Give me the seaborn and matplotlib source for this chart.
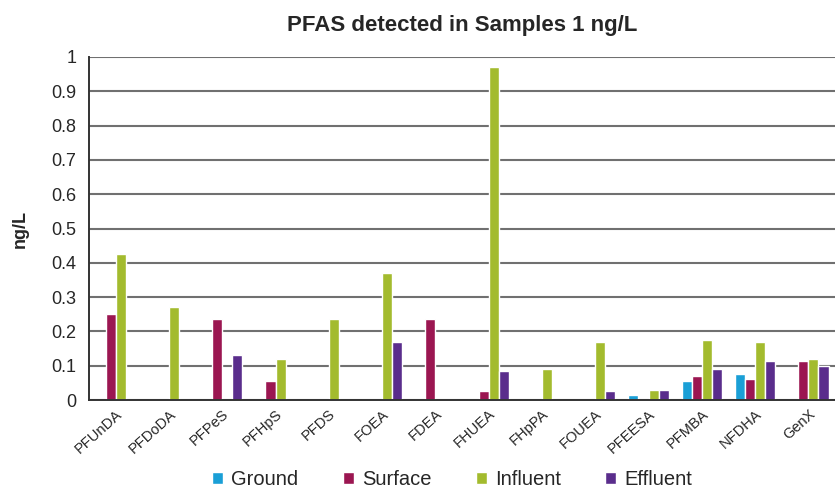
import numpy as np
import pandas as pd
import matplotlib.pyplot as plt
import seaborn as sns

# ── data ─────────────────────────────────────────────────────────────────────
compounds = ["PFUnDA", "PFDoDA", "PFPeS", "PFHpS", "PFDS", "FOEA", "FDEA",
             "FHUEA", "FHpPA", "FOUEA", "PFEESA", "PFMBA", "NFDHA", "GenX"]
ground   = [0, 0, 0, 0, 0, 0, 0, 0, 0, 0, 0.015, 0.055, 0.075, 0]
surface  = [0.25, 0, 0.235, 0.055, 0, 0, 0.235, 0.025, 0, 0, 0, 0.07, 0.06, 0.115]
influent = [0.425, 0.27, 0, 0.12, 0.235, 0.37, 0, 0.97, 0.09, 0.17, 0.03, 0.175, 0.17, 0.12]
effluent = [0, 0, 0.13, 0, 0, 0.17, 0, 0.085, 0, 0.025, 0.03, 0.09, 0.115, 0.10]

sample_types = ["Ground", "Surface", "Influent", "Effluent"]
palette = ["#1a9fd6", "#9b1651", "#a3bb2e", "#5a2d8c"]

df = pd.DataFrame({"compound": compounds, "Ground": ground, "Surface": surface,
                   "Influent": influent, "Effluent": effluent})
long = df.melt(id_vars="compound", var_name="sample", value_name="ng/L")

# ── plot ─────────────────────────────────────────────────────────────────────
sns.set_style("white")
plt.rcParams["font.family"] = ["Liberation Sans", "DejaVu Sans"]

fig = plt.figure(figsize=(8.35, 4.93), dpi=100)
ax = fig.add_axes([0.1066, 0.1886, 0.8934, 0.6958])

sns.barplot(data=long, x="compound", y="ng/L", hue="sample",
            hue_order=sample_types, palette=palette, width=0.76,
            saturation=1, ax=ax, legend=True)

ax.set_xlim(-0.5, len(compounds) - 0.5)
ax.set_ylim(0, 1)
ax.set_yticks(np.arange(0, 1.01, 0.1))
ax.set_yticklabels(["0"] + [f"{v:.1f}" for v in np.arange(0.1, 0.95, 0.1)] + ["1"],
                   fontsize=13)
ax.yaxis.grid(True, color="#707070", linewidth=1.5)
ax.set_axisbelow(True)

for s in ["top", "right"]:
    ax.spines[s].set_visible(False)
for s in ["left", "bottom"]:
    ax.spines[s].set_color("#333333")
    ax.spines[s].set_linewidth(1.4)

ax.tick_params(axis="y", which="major", direction="out", length=5,
               width=1.2, color="#333333", pad=4)
ax.set_xticks(np.arange(len(compounds) + 1) - 0.5, minor=True)
ax.tick_params(axis="x", which="minor", direction="out", length=5,
               width=1.2, color="#333333")
ax.tick_params(axis="x", which="major", length=0, pad=5)
ax.set_xticklabels(compounds, rotation=42, ha="right", rotation_mode="anchor",
                   fontsize=10.5)

ax.set_xlabel("")
ax.set_ylabel("ng/L", fontsize=13, fontweight="bold", labelpad=16)
ax.set_title("PFAS detected in Samples 1 ng/L", fontsize=16,
             fontweight="bold", pad=19)

ax.legend(loc="center", bbox_to_anchor=(0.487, -0.232), ncol=4,
          frameon=False, fontsize=14.5, handlelength=0.55, handleheight=0.55,
          handletextpad=0.4, columnspacing=2.2)

fig.savefig("out.png", dpi=100)
